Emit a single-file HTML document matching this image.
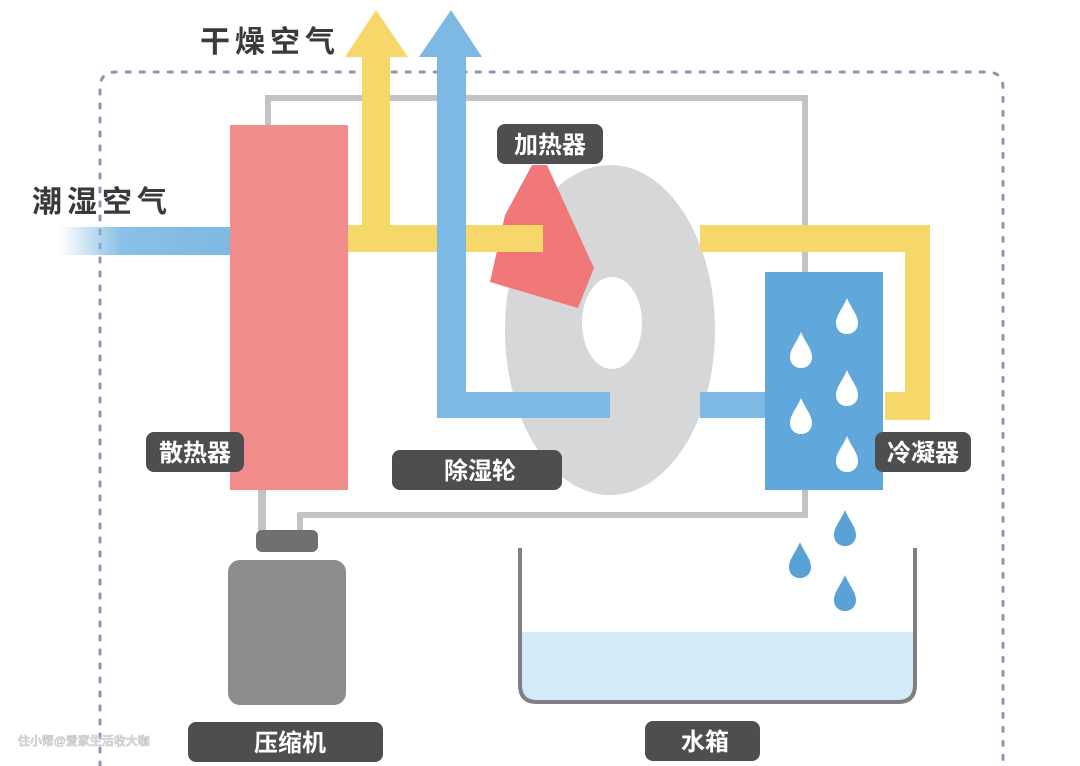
<!DOCTYPE html>
<html><head><meta charset="utf-8"><style>
html,body{margin:0;padding:0;background:#fff;}
svg{display:block;}
text{font-family:"Liberation Sans","Noto Sans CJK SC",sans-serif;font-weight:bold;}
</style></head><body>
<svg width="1080" height="766" viewBox="0 0 1080 766" xmlns="http://www.w3.org/2000/svg">
<defs>
<linearGradient id="fade" x1="0" x2="1" y1="0" y2="0">
<stop offset="0" stop-color="#7db9e2" stop-opacity="0"/>
<stop offset="0.35" stop-color="#7db9e2" stop-opacity="0.9"/>
<stop offset="1" stop-color="#7db9e2"/>
</linearGradient>
<path id="drop" d="M0,-20 C4,-10 11,-3 11,5 C11,12 6,16 0,16 C-6,16 -11,12 -11,5 C-11,-3 -4,-10 0,-20Z"/>
</defs>
<rect width="1080" height="766" fill="#fff"/>
<path d="M100,766 L100,88 Q100,72 116,72 L987,72 Q1003,72 1003,88 L1003,766" fill="none" stroke="#9a8fb0" stroke-width="3" stroke-dasharray="4 10" stroke-linecap="round"/>
<path d="M268,125 L268,98 L805,98 L805,515 L300,515 L300,532" fill="none" stroke="#c3c3c5" stroke-width="6"/>
<path d="M262,490 L262,532" stroke="#c3c3c5" stroke-width="8"/>
<rect x="60" y="227" width="175" height="28" fill="url(#fade)"/>
<ellipse cx="610" cy="330" rx="105" ry="165" fill="#d6d7d9"/>
<polygon points="532,165 547,165 594,268 578,308 490,282 505,215" fill="#f07878"/>
<rect x="348" y="225" width="195" height="27" fill="#f6d86a"/>
<rect x="362" y="55" width="28" height="197" fill="#f6d86a"/>
<polygon points="345,57 376,10 408,57" fill="#f6d86a"/>
<path d="M700,225 L930,225 L930,420 L885,420 L885,392 L905,392 L905,252 L700,252 Z" fill="#f6d86a"/>
<path d="M437,55 L466,55 L466,392 L610,392 L610,418 L437,418 Z" fill="#7db9e2"/>
<polygon points="419,57 451,10 482,57" fill="#7db9e2"/>
<rect x="700" y="392" width="70" height="26" fill="#7db9e2"/>
<ellipse cx="612" cy="323" rx="30" ry="46" fill="#fff"/>
<rect x="230" y="125" width="118" height="365" fill="#f08c8a"/>
<rect x="765" y="272" width="118" height="218" fill="#60a8dc"/>
<g fill="#fff">
<use href="#drop" x="847" y="318"/>
<use href="#drop" x="801" y="352"/>
<use href="#drop" x="847" y="390"/>
<use href="#drop" x="801" y="418"/>
<use href="#drop" x="847" y="456"/>
</g>
<rect x="256" y="530" width="62" height="22" rx="6" fill="#707072"/>
<rect x="228" y="560" width="118" height="145" rx="12" fill="#8c8c8e"/>
<path d="M520,632 L915,632 L915,688 Q915,700 903,700 L532,700 Q520,700 520,688 Z" fill="#d3eaf8"/>
<path d="M520,548 L520,685 Q520,702 537,702 L898,702 Q915,702 915,685 L915,548" fill="none" stroke="#7f7f81" stroke-width="4"/>
<g fill="#5aa2d6">
<use href="#drop" x="845" y="530"/>
<use href="#drop" x="800" y="562"/>
<use href="#drop" x="845" y="595"/>
</g>
<g fill="#4e4e50">
<rect x="497" y="124" width="106" height="40" rx="8"/>
<rect x="146" y="432" width="98" height="40" rx="8"/>
<rect x="392" y="450" width="170" height="40" rx="8"/>
<rect x="875" y="432" width="96" height="40" rx="8"/>
<rect x="188" y="722" width="195" height="40" rx="8"/>
<rect x="645" y="721" width="115" height="40" rx="8"/>
</g>
<g fill="#fff" font-size="24">
<text x="550" y="153" text-anchor="middle">加热器</text>
<text x="195" y="461" text-anchor="middle">散热器</text>
<text x="480" y="479" text-anchor="middle">除湿轮</text>
<text x="923" y="461" text-anchor="middle">冷凝器</text>
<text x="290" y="751" text-anchor="middle">压缩机</text>
<text x="705" y="750" text-anchor="middle">水箱</text>
</g>
<g fill="#3a3a3c" font-size="30">
<text x="200" y="52" letter-spacing="5">干燥空气</text>
<text x="32" y="212" letter-spacing="5">潮湿空气</text>
</g>
<text x="18" y="745" font-size="12" font-weight="normal" fill="#dcdcdc" stroke="#aaa" stroke-width="0.3">住小帮@爱家生活收大咖</text>
</svg>
</body></html>
